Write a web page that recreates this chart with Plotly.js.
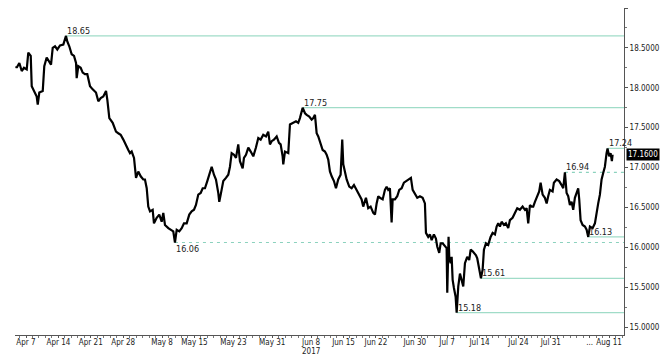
<!DOCTYPE html>
<html><head><meta charset="utf-8">
<script src="https://cdn.plot.ly/plotly-3.0.1.min.js"></script>
<style>html,body{margin:0;padding:0;background:#fff}#chart{width:661px;height:355px}</style>
</head><body><div id="chart"></div>
<script>
// trading-day position (0 = Apr 7, one unit per weekday) and price
const t = [-1.54,-1.44,-1.03,-0.66,-0.31,0.11,0.35,0.73,0.88,1.23,1.65,1.81,2.05,2.58,2.82,3.19,3.60,3.86,4.12,4.48,4.83,5.25,5.76,6.17,6.37,6.68,7.05,7.41,7.72,7.82,8.07,8.44,8.75,9.10,9.46,9.88,10.29,10.80,11.16,11.53,11.93,12.35,12.55,12.86,13.38,13.89,14.24,14.61,15.02,15.43,15.79,16.05,16.31,16.67,16.98,17.33,17.70,18.10,18.36,18.63,18.87,19.14,19.55,19.75,20.17,20.57,20.94,21.19,21.45,21.96,22.33,22.73,22.99,23.26,23.66,24.03,24.38,24.80,25.20,25.57,25.93,26.23,26.59,26.96,27.27,27.62,27.98,28.29,28.66,29.01,29.32,29.68,29.83,30.05,30.45,30.86,31.22,31.48,31.74,32.10,32.41,32.76,33.02,33.44,33.64,33.95,34.31,34.68,35.08,35.49,35.85,36.22,36.62,37.04,37.39,37.65,37.92,38.27,38.69,39.04,39.30,39.61,39.71,39.97,40.48,40.74,41.16,41.67,42.02,42.28,42.70,43.06,43.32,43.72,44.09,44.34,44.60,44.86,45.11,45.48,45.79,46.14,46.40,46.65,46.91,47.18,47.53,47.84,48.19,48.56,48.81,48.97,49.23,49.49,49.89,50.26,50.62,51.03,51.43,51.80,52.05,52.47,52.82,53.19,53.60,53.86,54.12,54.37,54.63,55.05,55.40,55.66,55.91,56.17,56.43,56.59,56.94,57.30,57.61,57.98,58.33,58.75,59.15,59.41,59.68,60.03,60.39,60.80,61.22,61.57,61.73,62.08,62.35,62.61,62.96,63.27,63.47,63.78,64.00,64.31,64.66,64.92,65.02,65.12,65.22,65.33,65.54,65.70,65.85,66.05,66.31,66.47,66.72,66.98,67.24,67.49,67.75,68.10,68.41,68.63,68.94,69.14,69.45,69.65,69.96,70.22,70.48,70.68,70.99,71.34,71.71,72.02,72.38,72.64,72.89,73.15,73.41,73.77,74.07,74.43,74.69,75.10,75.46,75.82,76.23,76.65,77.01,77.27,77.52,77.78,78.04,78.29,78.55,78.90,79.21,79.43,79.74,80.09,80.36,80.60,80.86,81.28,81.48,81.90,82.30,82.67,82.92,83.18,83.33,83.44,83.69,83.95,84.21,84.46,84.72,84.98,85.23,85.39,85.60,85.91,86.27,86.53,86.78,87.04,87.45,87.81,88.07,88.32,88.58,88.84,89.09,89.35,89.61,89.76,90.01,90.23,90.43,90.54];
const price = [18.27,18.25,18.31,18.21,18.25,18.23,18.44,18.40,18.02,17.96,17.89,17.79,17.94,17.96,18.27,18.38,18.33,18.29,18.50,18.52,18.48,18.53,18.54,18.65,18.58,18.52,18.42,18.40,18.31,18.12,18.27,18.25,18.19,18.17,18.17,18.02,17.98,17.94,17.83,17.87,17.89,17.96,17.85,17.62,17.56,17.45,17.43,17.41,17.35,17.29,17.22,17.18,17.20,17.12,16.87,16.95,16.89,16.85,16.85,16.74,16.51,16.45,16.47,16.30,16.37,16.41,16.32,16.43,16.28,16.24,16.22,16.20,16.06,16.22,16.20,16.24,16.30,16.30,16.41,16.45,16.47,16.53,16.66,16.68,16.74,16.74,16.83,16.91,17.01,16.91,16.85,16.68,16.57,16.66,16.83,16.87,16.91,17.01,17.18,17.16,17.12,17.29,17.08,16.99,17.12,17.16,17.25,17.20,17.14,17.25,17.37,17.35,17.41,17.39,17.45,17.29,17.33,17.35,17.39,17.31,17.29,17.14,17.04,17.20,17.18,17.54,17.56,17.58,17.56,17.62,17.75,17.68,17.66,17.64,17.60,17.62,17.66,17.43,17.39,17.31,17.22,17.20,17.16,17.10,16.95,16.89,16.83,16.74,16.85,16.91,17.35,17.04,16.95,16.85,16.76,16.74,16.78,16.72,16.66,16.60,16.51,16.62,16.49,16.51,16.43,16.41,16.55,16.64,16.62,16.60,16.72,16.76,16.72,16.74,16.31,16.60,16.60,16.64,16.72,16.74,16.81,16.83,16.85,16.87,16.72,16.66,16.62,16.64,16.62,16.55,16.18,16.13,16.16,16.09,16.16,16.11,16.01,15.93,16.05,16.05,16.01,15.99,15.43,15.97,16.13,15.88,15.80,15.88,15.59,15.49,15.38,15.18,15.51,15.67,15.59,15.51,15.80,15.88,15.84,15.97,15.95,15.93,15.90,15.86,15.72,15.61,15.72,15.97,16.05,16.03,16.13,16.18,16.16,16.26,16.30,16.26,16.32,16.28,16.30,16.24,16.34,16.37,16.43,16.49,16.47,16.51,16.47,16.49,16.30,16.53,16.51,16.51,16.57,16.64,16.70,16.81,16.66,16.62,16.55,16.64,16.72,16.70,16.81,16.85,16.83,16.78,16.74,16.94,16.72,16.68,16.64,16.53,16.57,16.47,16.62,16.68,16.74,16.60,16.34,16.28,16.26,16.22,16.13,16.26,16.24,16.30,16.45,16.55,16.66,16.85,16.93,17.01,17.18,17.24,17.14,17.18,17.08,17.16];

// x tick labels at trading-day positions
const tickPos = [0,5,10,15,21,26,32,38,44,49,54,60,65,70,76,81,87,90];
const tickText = ['Apr 7','Apr 14','Apr 21','Apr 28','May 8','May 15','May 23','May 31','Jun 8','Jun 15','Jun 22','Jun 30','Jul 7','Jul 14','Jul 24','Jul 31','...','Aug 11'];
const yearLabel = '2017';
const yearPos = 44;

// marked levels: value, position where they start, solid/dashed
const levelValue = [18.65, 17.75, 16.06, 16.94, 17.24, 16.13, 15.61, 15.18];
const levelStart = [6.17, 42.70, 22.99, 83.18, 89.76, 86.78, 70.22, 66.47];
const levelDashed = [false, false, true, true, false, false, false, false];
const levelLabelBelow = [false, false, true, false, false, false, false, false];
const lastPrice = 17.16;

const FONT = 'Liberation Sans Narrow, DejaVu Sans Condensed, Arial, sans-serif';
const xEnd = 92.3;
const shapes = [], annotations = [];
levelValue.forEach((lv, i) => {
  shapes.push({type:'line', xref:'x', yref:'y', x0:levelStart[i], x1:xEnd, y0:lv, y1:lv,
    line:{color: levelDashed[i] ? 'rgb(140,210,190)' : 'rgb(160,220,200)', width:1.2, dash: levelDashed[i] ? '3px,4px' : 'solid'}, layer:'below'});
  annotations.push({xref:'x', yref:'y', x:levelStart[i], y:lv, text: lv.toFixed(2), showarrow:false,
    xanchor:'left', yanchor: levelLabelBelow[i] ? 'top' : 'bottom', borderpad:0, yshift:-1,
    font:{family:FONT, size:9, color:'#222'}});
});
annotations.push({xref:'paper', yref:'y', x:1, y:lastPrice, text:lastPrice.toFixed(4), showarrow:false,
  xanchor:'left', yanchor:'middle', xshift:2, bgcolor:'#000', borderpad:1,
  font:{family:FONT, size:8, color:'#fff'}});
annotations.push({xref:'x', yref:'paper', x:yearPos, y:0, text:yearLabel, showarrow:false,
  xanchor:'center', yanchor:'top', yshift:-10, font:{family:FONT, size:8, color:'#222'}});

const trace = {x:t, y:price, type:'scatter', mode:'lines', line:{color:'#000', width:2.2}, hoverinfo:'skip'};

const font = {family:FONT, size:8, color:'#222'};
const layout = {
  width:661, height:355, margin:{l:15, r:37, t:8, b:20},
  paper_bgcolor:'#fff', plot_bgcolor:'#fff', showlegend:false, font:font,
  xaxis:{range:[-1.70, xEnd], tickmode:'array', tickvals:tickPos, ticktext:tickText, showgrid:false, zeroline:false,
    showline:true, linecolor:'#555', linewidth:1, ticks:'outside', ticklen:2, tickcolor:'#555', tickfont:font,
    ticklabelstandoff:-3,
    minor:{tickmode:'linear', tick0:0, dtick:1, ticks:'outside', ticklen:2, tickcolor:'#777'}},
  yaxis:{side:'right', range:[14.9, 19.0], tickmode:'array', tickvals:[15,15.5,16,16.5,17,17.5,18,18.5,19],
    ticktext:['15.0000','15.5000','16.0000','16.5000','17.0000','17.5000','18.0000','18.5000',''],
    showgrid:false, zeroline:false, showline:true, linecolor:'#555', linewidth:1, ticks:'outside', ticklen:3, tickcolor:'#555', tickfont:font,
    minor:{tickmode:'linear', tick0:15, dtick:0.25, ticks:'outside', ticklen:2, tickcolor:'#777'}},
  shapes:shapes, annotations:annotations
};
Plotly.newPlot('chart', [trace], layout, {displayModeBar:false, staticPlot:true});
</script></body></html>
